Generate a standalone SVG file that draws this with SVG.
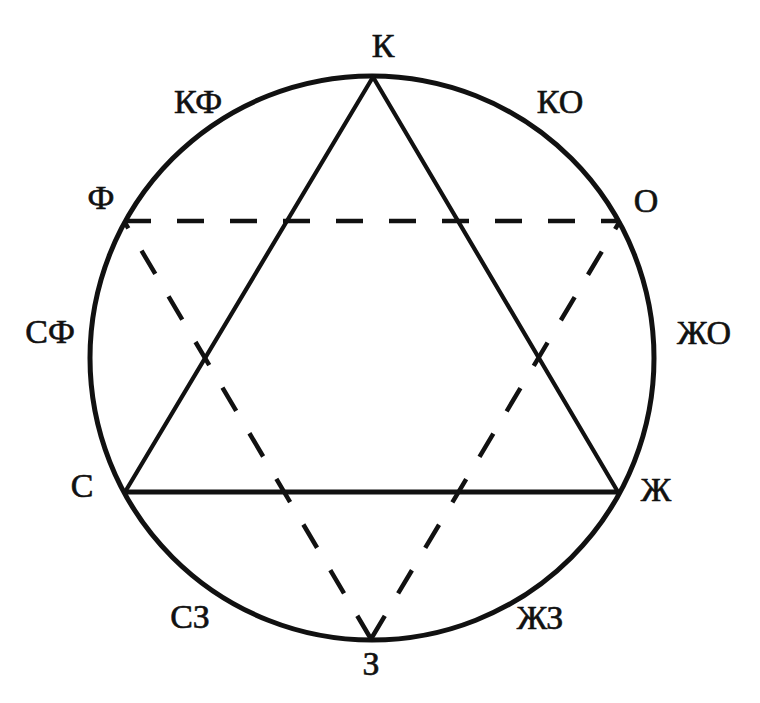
<svg xmlns="http://www.w3.org/2000/svg" width="760" height="703" viewBox="0 0 760 703">
<style>
.lbl{font-family:"Liberation Serif","Times New Roman",serif;font-size:34px;fill:#111;stroke:#111;stroke-width:0.6;text-anchor:middle}
.solid{stroke:#111;fill:none;stroke-width:4.2;stroke-linecap:round}
.dash{stroke:#111;fill:none;stroke-width:4.5;stroke-dasharray:27 26}
</style>
<rect width="760" height="703" fill="#fff"/>
<g id="connectors">
<circle cx="372" cy="358" r="282" fill="none" stroke="#111" stroke-width="5"/>
<line class="solid" x1="373" y1="77" x2="125" y2="492"/>
<line class="solid" x1="373" y1="77" x2="618" y2="492"/>
<line class="solid" x1="125" y1="492" x2="618" y2="492" style="stroke-width:5"/>
<line class="dash" x1="124" y1="221" x2="620" y2="221"/>
<line class="dash" x1="371" y1="639" x2="124" y2="221"/>
<line class="dash" x1="371" y1="639" x2="620" y2="221"/>
</g>
<g id="node-K"><text class="lbl" x="383" y="57">К</text></g>
<g id="node-KF"><text class="lbl" x="198" y="113">КФ</text></g>
<g id="node-KO"><text class="lbl" x="560" y="113">КО</text></g>
<g id="node-F"><text class="lbl" x="101" y="209">Ф</text></g>
<g id="node-O"><text class="lbl" x="646" y="212">О</text></g>
<g id="node-SF"><text class="lbl" x="50" y="343">СФ</text></g>
<g id="node-ZhO"><text class="lbl" x="704" y="344">ЖО</text></g>
<g id="node-S"><text class="lbl" x="82" y="497">С</text></g>
<g id="node-Zh"><text class="lbl" x="656" y="501">Ж</text></g>
<g id="node-SZ"><text class="lbl" x="190" y="628">СЗ</text></g>
<g id="node-ZhZ"><text class="lbl" x="540" y="629">ЖЗ</text></g>
<g id="node-Z"><text class="lbl" x="371" y="675">З</text></g>
</svg>
